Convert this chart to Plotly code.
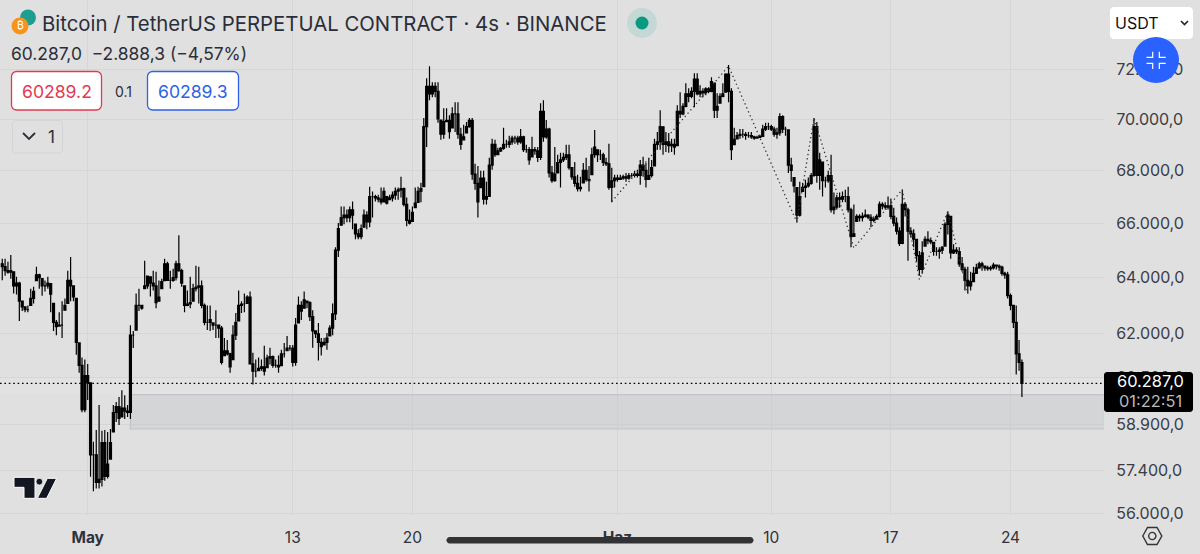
import pandas as pd
import numpy as np
import plotly.graph_objects as go

# ---- data (USD, 4h candles from 2024-04-26 00:00) ----
START = "2024-04-26 00:00"
HIGHS = [
64680,64680,64570,64820,64210,64030,63850,63150,62970,63000,
63600,63670,64390,64140,63960,63890,64030,63780,63070,62480,
62760,63150,63250,64250,64750,63700,63250,61680,61170,61100,
60950,60320,58330,58720,59550,58690,58720,58650,58750,59550,
59650,59820,60050,59880,59550,62300,62100,63430,63600,63000,
64610,64070,64030,64250,64210,63890,63960,64680,64570,64250,
64320,64610,65550,64320,63700,63530,64030,63780,64430,64390,
63890,63070,63000,63000,62380,62830,62300,62270,61850,61780,
61340,62300,62730,63530,63150,63430,63360,63500,61340,61100,
61170,61100,61580,61270,61510,61240,61100,61240,61440,61680,
61920,61610,61610,62550,63320,63150,63500,63150,63150,62830,
62100,62380,61850,61850,62030,62300,63070,65110,66000,66620,
66620,66510,66620,66810,65960,65770,65950,66510,66440,67370,
67190,67070,67070,67340,67340,67000,67070,67190,67340,67340,
67750,67340,66960,66510,66620,67340,67370,67520,70040,71630,
72120,71470,71470,71470,69960,70430,70430,70150,70470,70670,
70670,69650,69770,69880,70040,70040,68250,68170,67980,67980,
67560,68480,69220,69180,68870,68900,69650,69180,69340,69340,
69340,69340,69610,69340,68990,68900,69300,68900,68900,70630,
70750,69960,69650,68170,68900,68600,68680,68680,68990,68990,
68100,68320,67830,67750,68280,68480,68170,68870,69570,68790,
68790,68680,68480,69030,68100,67830,67830,67830,67830,67900,
67900,67900,67980,68020,68400,68520,68280,68480,68400,69220,
69490,70350,69690,69490,69450,69220,69220,70550,71070,70630,
71430,71230,71270,71830,71830,71350,71230,71270,71270,71670,
71430,71030,71030,71430,71830,72170,71230,69650,69490,69610,
69610,69490,69490,69490,69340,69340,69380,69770,69850,69850,
69770,69690,69650,70230,70150,69690,69570,68480,67720,67340,
67560,67520,67640,67720,67900,70040,69880,68680,68320,67750,
67980,68600,67150,67070,67150,67190,67260,67370,66580,66700,
66330,66330,66400,66510,66330,66330,66250,66330,66810,66780,
66780,67000,66920,66580,66210,65850,67260,66780,66580,65850,
65770,65400,64970,65330,65510,65700,65470,65290,65110,65110,
65150,66030,66440,66250,65220,65110,65110,64750,64390,64390,
64210,64390,64500,64570,64570,64430,64430,64430,64540,64470,
64470,64430,64210,64210,63430,63000,63000,61780,61100]
LOWS = [
63900,64070,64140,63960,63430,63390,62450,62800,62760,62760,
63000,63070,63890,63600,63350,63500,63600,62760,62100,61950,
62270,61850,62830,63070,63150,63150,61270,60650,59310,59310,
59720,57190,56720,56810,56810,56870,57060,57130,57760,58650,
58980,58880,59150,59080,59150,59080,61500,62130,62800,62850,
63600,63600,63320,63530,62900,63150,63600,63890,63890,63600,
63850,63890,64210,63670,62760,62970,62900,63150,63500,63070,
62900,62300,62130,62100,62130,61850,61850,60930,61240,61240,
60650,61100,61780,62450,62730,62760,63070,60930,60250,60490,
60720,60720,60550,60820,60930,60820,60820,60650,60890,61170,
61410,61410,60860,60890,62380,62480,62900,62900,62450,61510,
61850,61070,61240,61610,61440,61920,61950,62480,64750,65920,
65960,66030,66030,65770,65400,65400,65400,65850,65770,65850,
66210,66810,66780,66700,66780,66700,66880,66810,66880,66880,
66960,66620,65880,65950,66060,66580,66780,66780,67370,68900,
70750,70870,70870,69850,69180,69220,69880,69220,69650,69490,
69220,68790,69180,69450,69650,67640,67260,66210,67340,66700,
66700,67000,68020,68520,68600,68710,68790,68870,68870,68990,
69030,68990,69030,68710,68680,68210,68520,68600,68320,68400,
69110,69220,67720,67520,67560,67900,67340,68320,68400,68020,
67640,67370,67190,67190,67520,67560,67190,67830,68480,68320,
68400,68170,68170,67260,66780,67340,67560,67640,67640,67560,
67640,67720,67720,67720,67450,67750,67340,67640,67720,68170,
68790,68790,68600,68710,68680,68710,68600,68950,70040,70150,
70470,70670,70830,70470,70950,70870,70870,70950,71030,71070,
70040,70040,70630,70870,71070,70670,68400,68990,69220,69220,
69260,69180,69260,69220,69180,69220,69260,69300,69530,69570,
69530,69300,69220,69340,69450,69340,67900,67560,67150,66030,
66250,67190,66960,67340,67450,67750,67520,67260,67000,67340,
67520,66400,66330,66510,66580,66780,66780,66400,65110,65510,
66060,66060,66060,66210,66140,65850,66030,66140,66210,66510,
66510,66510,66140,65880,65580,65150,65220,66250,64610,65470,
65110,64570,64070,64140,65150,65220,65220,64790,64790,64680,
64860,65150,65580,64680,64860,64860,64390,64210,63530,63430,
63530,63850,64140,64320,64250,64250,64250,64250,64290,64290,
64250,64070,63960,63250,62830,62200,60590,60720,59820]
CLOSES = [
64400,64250,64200,64250,63700,63800,63150,62950,62850,62850,
63250,63500,64100,64000,63700,63700,63800,63400,62400,62250,
62300,62300,63000,63900,63700,63300,61700,60900,59400,60550,
60300,57900,57900,57000,57100,58300,57200,57600,58300,59300,
59500,59100,59450,59350,59300,61950,61950,63000,63000,62900,
63700,64050,63800,63700,63100,63300,63850,64500,63900,63900,
64000,64500,64250,63800,63000,63050,63100,63600,63650,63700,
63000,62400,62400,62500,62300,62300,62200,61000,61400,61300,
60850,61950,62400,63000,63050,63050,63300,60950,60700,60700,
60800,60850,60700,61150,61200,60900,60900,60850,61300,61300,
61500,61500,61000,62300,63000,62800,63200,63100,62600,62100,
62000,61700,61550,61700,61850,62200,62700,65000,65800,66200,
66300,66200,66500,66300,65600,65500,65800,66300,66050,67000,
67000,66950,66900,66800,67200,66750,66950,67050,67200,67250,
67300,66700,66100,66000,66400,66750,67200,67300,69700,71300,
71000,71300,71100,70000,69400,69900,69950,69500,70200,70200,
69400,69000,69300,69700,69950,67850,67500,66800,67700,66900,
67000,68200,69000,68600,68750,68850,69000,69000,69100,69250,
69250,69100,69300,68800,68800,68400,68800,68750,68500,70300,
69300,69600,67900,67600,67850,68300,68400,68500,68600,68100,
67750,67500,67300,67350,68000,67650,67600,68600,68900,68600,
68600,68300,68250,67350,67600,67700,67650,67700,67750,67700,
67800,67800,67850,67800,68200,68000,67650,67800,68100,69000,
69100,69700,69000,69100,68950,69000,68900,70300,70200,70500,
71000,70900,71100,71600,71000,71100,71050,71200,71100,71500,
70350,70500,70900,71000,71800,71100,68800,69200,69350,69400,
69400,69350,69350,69300,69250,69280,69320,69600,69700,69700,
69600,69400,69450,70100,69600,69600,68200,68000,67400,66300,
67000,67350,67400,67500,67800,69700,67800,68400,67600,67600,
67800,66500,66600,66950,66900,67000,67000,66500,65500,65600,
66250,66200,66250,66300,66220,66100,66150,66250,66700,66650,
66600,66650,66250,66000,65700,65250,66700,66500,65700,65600,
65400,64800,64300,64900,65400,65350,65300,64950,64950,65000,
65100,65950,66300,64900,65000,64950,64500,64300,63900,63700,
63850,64150,64350,64500,64420,64350,64320,64350,64450,64420,
64380,64150,64100,63350,63000,62400,61300,61000,60287]
FIRST_OPEN = 64500

ZIGZAG_INDEX = [214,255,279,285,299,316,322,332,339]
ZIGZAG_PRICE = [66810,72120,66030,70040,65080,67260,63930,66440,63430]

LAST_PRICE = 60287
BAND_TOP = 60480
ZONE_TOP = 59900
ZONE_BOTTOM = 58750
ZONE_START_INDEX = 45

Y_TICKS = [72000,70000,68000,66000,64000,62000,60500,58900,57400,56000]
Y_LABELS = ["72.000,0","70.000,0","68.000,0","66.000,0","64.000,0","62.000,0","60.500,0","58.900,0","57.400,0","56.000,0"]
X_TICKS = ["2024-05-01","2024-05-13","2024-05-20","2024-06-01","2024-06-10","2024-06-17","2024-06-24"]
X_LABELS = ["<b>May</b>","13","20","<b>Haz</b>","10","17","24"]

TITLE = "Bitcoin / TetherUS PERPETUAL CONTRACT · 4s · BINANCE"
PRICE_LINE = "60.287,0\u00a0\u00a0−2.888,3 (−4,57%)"
BID, SPREAD, ASK = "60289.2", "0.1", "60289.3"

# ---- layout constants ----
W, H = 1200, 554
PW, PH = 1104, 515
BG = "#e0e0e0"
GRID = "#d6d6d7"
INK = "#2a2e39"
FONT = "Inter"

def X(p): return p / PW
def Y(p): return 1 - p / PH
def path(pts, close=False):
    s = "M " + " L ".join(f"{X(a):.5f},{Y(b):.5f}" for a, b in pts)
    return s + (" Z" if close else "")

dates = pd.date_range(START, periods=len(CLOSES), freq="4h")
# each candle opens where the previous one closed
opens = np.clip([FIRST_OPEN] + CLOSES[:-1], LOWS, HIGHS)

fig = go.Figure()
fig.add_trace(go.Candlestick(
    x=dates, open=opens, high=HIGHS, low=LOWS, close=CLOSES,
    increasing=dict(line=dict(color="#000000", width=1.2), fillcolor="#000000"),
    decreasing=dict(line=dict(color="#000000", width=1.2), fillcolor="#000000"),
    whiskerwidth=0, hoverinfo="skip", showlegend=False))
fig.add_trace(go.Scatter(
    x=[dates[i] for i in ZIGZAG_INDEX], y=ZIGZAG_PRICE, mode="lines",
    line=dict(color="#333333", width=1.3, dash="1.3px,3px"), hoverinfo="skip", showlegend=False))

shapes = []
def rrect(x0, y0, x1, y1, r, fill, line=None, lw=1, layer="above"):
    k = 0.5523 * r
    d = (f"M {X(x0+r):.5f},{Y(y0):.5f} L {X(x1-r):.5f},{Y(y0):.5f} "
         f"C {X(x1-r+k):.5f},{Y(y0):.5f} {X(x1):.5f},{Y(y0+r-k):.5f} {X(x1):.5f},{Y(y0+r):.5f} "
         f"L {X(x1):.5f},{Y(y1-r):.5f} "
         f"C {X(x1):.5f},{Y(y1-r+k):.5f} {X(x1-r+k):.5f},{Y(y1):.5f} {X(x1-r):.5f},{Y(y1):.5f} "
         f"L {X(x0+r):.5f},{Y(y1):.5f} "
         f"C {X(x0+r-k):.5f},{Y(y1):.5f} {X(x0):.5f},{Y(y1-r+k):.5f} {X(x0):.5f},{Y(y1-r):.5f} "
         f"L {X(x0):.5f},{Y(y0+r):.5f} "
         f"C {X(x0):.5f},{Y(y0+r-k):.5f} {X(x0+r-k):.5f},{Y(y0):.5f} {X(x0+r):.5f},{Y(y0):.5f} Z")
    shapes.append(dict(type="path", xref="paper", yref="paper", path=d, fillcolor=fill,
                       line=dict(color=line or fill, width=lw if line else 0), layer=layer))
def circle(cx, cy, r, fill, line=None, lw=0, layer="above"):
    shapes.append(dict(type="circle", xref="paper", yref="paper",
                       x0=X(cx-r), x1=X(cx+r), y0=Y(cy+r), y1=Y(cy-r), fillcolor=fill,
                       line=dict(color=line or fill, width=lw), layer=layer))
def stroke(pts, color, lw, close=False, layer="above"):
    shapes.append(dict(type="path", xref="paper", yref="paper", path=path(pts, close),
                       line=dict(color=color, width=lw), layer=layer))
def poly(pts, fill, line=None, lw=0):
    shapes.append(dict(type="path", xref="paper", yref="paper", path=path(pts, True),
                       fillcolor=fill, line=dict(color=line or fill, width=lw), layer="above"))

# band around the last price, demand zone and last-price line, on the data scales
shapes.append(dict(type="rect", xref="paper", yref="y", x0=0, x1=1, y0=ZONE_TOP, y1=BAND_TOP,
                   fillcolor="#e3e2e2", line=dict(width=0), layer="between"))
shapes.append(dict(type="rect", xref="x", yref="y", x0=dates[ZONE_START_INDEX], x1="2024-06-29 12:00",
                   y0=ZONE_BOTTOM, y1=ZONE_TOP, fillcolor="rgba(190,193,197,0.36)",
                   line=dict(color="#c2c4c8", width=1.2), layer="between"))
shapes.append(dict(type="line", xref="paper", yref="y", x0=0, x1=1, y0=LAST_PRICE, y1=LAST_PRICE,
                   line=dict(color="#000000", width=1.2, dash="1.6px,2.8px"), layer="above"))

# scrollbar under the time labels
rrect(446.5, 537, 753.5, 543.5, 3.2, "#333333", layer="below")

# header icons
circle(28, 17.5, 8, "#1f9e8f")
circle(20, 26, 8.5, "#f7931a")
circle(642, 23, 15, "#c4d8d5")
circle(642, 23, 6.5, "#089981")

# bid / ask boxes
rrect(11.5, 71.5, 101.5, 110, 5, "#ffffff", "#e23a50", 1.3)
rrect(147.5, 71.5, 238.5, 110, 5, "#ffffff", "#2f62e6", 1.3)
rrect(12.5, 120.5, 62.5, 153, 3, "#e0e0e1", "#d3d5d8", 1)
stroke([(23, 133), (29, 139), (35, 133)], "#2a2e39", 1.8)

# currency selector and collapse button
rrect(1110, 7, 1193, 39, 4, "#ffffff")
stroke([(1181, 21), (1184.5, 24.5), (1188, 21)], "#222222", 1.6)
rrect(1104, 372, 1193, 412, 3, "#000000")
circle(1156, 60, 23, "#2962ff")
for pts in ([(1146.5, 57.3), (1152.7, 57.3), (1152.7, 51.7)],
            [(1165.7, 57.3), (1159.3, 57.3), (1159.3, 51.7)],
            [(1146.5, 63.3), (1152.7, 63.3), (1152.7, 69)],
            [(1165.7, 63.3), (1159.3, 63.3), (1159.3, 69)]):
    stroke(pts, "#ffffff", 1.2)

# settings hexagon
stroke([(1142.8, 536), (1147.5, 527.5), (1157, 527.5), (1161.8, 536), (1157, 544.5), (1147.5, 544.5)],
       "#333333", 1.4, close=True)
circle(1152.3, 536, 3.6, "rgba(0,0,0,0)", "#333333", 1.4)

# TradingView mark
tvx = lambda z: z / 3
tvy = lambda z: 230 + z / 3
poly([(tvx(a), tvy(b)) for a, b in [(42,742),(105,742),(105,805),(72,805),(72,772),(42,772)]], "#131722", "#ffffff", 1)
poly([(tvx(a), tvy(b)) for a, b in [(142,745),(170,745),(140,805),(112,805)]], "#131722", "#ffffff", 1)
circle(118/3, 230+755/3, 3.4, "#131722", "#ffffff", 0.8)

def label(px, py, text, size, color=INK, anchor="left", font=FONT):
    return dict(xref="paper", yref="paper", x=X(px), y=Y(py), text=text, showarrow=False,
                xanchor=anchor, yanchor="middle", align=anchor,
                font=dict(family=font, size=size, color=color))

annotations = [
    label(40, 23, TITLE, 20.35),
    label(9, 53, PRICE_LINE, 17.4),
    label(20, 26, "₿", 10.5, "#ffffff", "center"),
    label(56.5, 91, BID, 17.6, "#e23a50", "center"),
    label(123, 91, SPREAD, 14, "#2a2e39", "center"),
    label(193, 91, ASK, 17.6, "#2f62e6", "center"),
    label(51, 137, "1", 17, "#2a2e39", "center"),
    label(1113, 23, "USDT", 16, "#111111"),
    label(1150, 381, "60.287,0", 16.4, "#ffffff", "center"),
    label(1150, 400.5, "01:22:51", 16.4, "#b9b9b9", "center"),
]

fig.update_layout(
    width=W, height=H, autosize=False,
    margin=dict(l=0, r=W-PW, t=0, b=H-PH, pad=0),
    paper_bgcolor=BG, plot_bgcolor=BG,
    font=dict(family=FONT, size=16, color="#3a3d45"),
    shapes=shapes, annotations=annotations, showlegend=False, hovermode=False, boxgap=0.0,
    xaxis=dict(type="date", range=["2024-04-25 20:50", "2024-06-29 11:17"],
               rangeslider=dict(visible=False), tickmode="array",
               tickvals=X_TICKS, ticktext=X_LABELS, tickangle=0,
               showgrid=True, gridcolor=GRID, gridwidth=1, zeroline=False, showline=False,
               ticks="outside", ticklen=8, tickcolor="rgba(0,0,0,0)",
               tickfont=dict(family=FONT, size=15.5, color="#2f323a")),
    yaxis=dict(type="log", range=[float(np.log10(55963)), float(np.log10(74870))],
               side="right", tickmode="array", tickvals=Y_TICKS, ticktext=Y_LABELS,
               showgrid=True, gridcolor=GRID, gridwidth=1, zeroline=False, showline=False,
               ticks="outside", ticklen=8, tickcolor="rgba(0,0,0,0)",
               tickfont=dict(family=FONT, size=16, color="#3a3d45")),
)

fig.write_html("out.html", config=dict(displayModeBar=False, staticPlot=True),
               post_script="document.body.style.margin='0';document.body.style.overflow='hidden';")
